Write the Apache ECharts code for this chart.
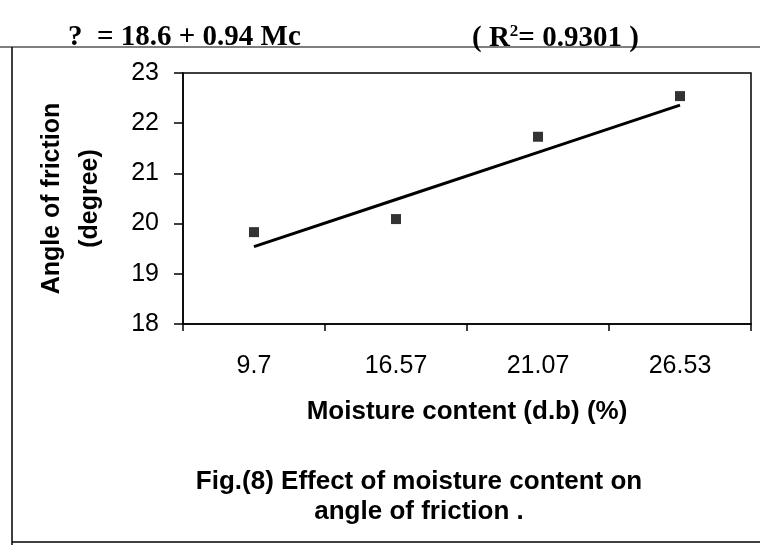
<!DOCTYPE html>
<html>
<head>
<meta charset="utf-8">
<script src="https://cdn.jsdelivr.net/npm/echarts@6/dist/echarts.min.js"></script>
<style>
  html, body { margin: 0; padding: 0; background: #ffffff; }
  #chart { width: 760px; height: 545px; }
</style>
</head>
<body>
<div id="chart"></div>
<script>
// moisture content categories (d.b %)
var moisture = ['9.7', '16.57', '21.07', '26.53'];
// measured angle of friction (degree)
var angleFriction = [19.83, 20.09, 21.73, 22.54];
// linear trend line
var trendLine = [19.54, 20.48, 21.42, 22.36];
var yTicks = [18, 19, 20, 21, 22, 23];

var chart = echarts.init(document.getElementById('chart'));
var sans = 'Liberation Sans, Arial, sans-serif';
var serif = 'Liberation Serif, Times New Roman, serif';

chart.setOption({
  backgroundColor: '#ffffff',
  animation: false,
  title: [
    {
      text: '?  = 18.6 + 0.94 Mc',
      left: 63, top: 18,
      textStyle: { fontFamily: serif, fontWeight: 'bold', fontSize: 29, color: '#000' }
    },
    {
      text: '( R{sup|2}= 0.9301 )',
      left: 467, top: 18,
      textStyle: {
        fontFamily: serif, fontWeight: 'bold', fontSize: 29, color: '#000',
        rich: { sup: { fontFamily: serif, fontWeight: 'bold', fontSize: 17, verticalAlign: 'top', padding: [0, 0, 14, 0] } }
      }
    },
    {
      text: 'Fig.(8) Effect of moisture content on\nangle of friction .',
      left: 414, top: 462, textAlign: 'center',
      textStyle: { fontFamily: sans, fontWeight: 'bold', fontSize: 26, lineHeight: 30, color: '#000', align: 'center' }
    }
  ],
  grid: {
    left: 183, top: 73, right: 9, bottom: 221,
    show: true, borderColor: '#000', borderWidth: 1.5, backgroundColor: 'transparent'
  },
  xAxis: {
    type: 'category',
    data: moisture,
    boundaryGap: true,
    name: 'Moisture content (d.b) (%)',
    nameLocation: 'middle',
    nameGap: 75,
    nameTextStyle: { fontFamily: sans, fontWeight: 'bold', fontSize: 26, color: '#000' },
    axisLine: { lineStyle: { color: '#000', width: 1.5 } },
    axisTick: { show: true, length: 7, lineStyle: { color: '#000', width: 1.5 } },
    axisLabel: { fontFamily: sans, fontSize: 25, color: '#000', margin: 30 },
    splitLine: { show: false }
  },
  yAxis: {
    type: 'value',
    min: yTicks[0],
    max: yTicks[yTicks.length - 1],
    interval: 1,
    name: 'Angle of friction\n(degree)',
    nameLocation: 'middle',
    nameGap: 74,
    nameRotate: 90,
    nameTextStyle: { fontFamily: sans, fontWeight: 'bold', fontSize: 25, lineHeight: 38, color: '#000', align: 'center' },
    axisLine: { show: true, lineStyle: { color: '#000', width: 1.5 } },
    axisTick: { show: true, inside: false, length: 9, lineStyle: { color: '#000', width: 1.5 } },
    axisLabel: { fontFamily: sans, fontSize: 25, color: '#000', margin: 24 },
    splitLine: { show: false }
  },
  series: [
    {
      name: 'Trend',
      type: 'line',
      data: trendLine,
      symbol: 'none',
      lineStyle: { color: '#000', width: 3 },
      z: 2
    },
    {
      name: 'Angle of friction',
      type: 'scatter',
      data: angleFriction,
      symbol: 'rect',
      symbolSize: 10,
      itemStyle: { color: '#000' },
      z: 3
    }
  ],
  graphic: [
    { type: 'line', shape: { x1: 0, y1: 47, x2: 760, y2: 47 }, style: { stroke: '#000', lineWidth: 1.2 } },
    { type: 'line', shape: { x1: 12, y1: 47, x2: 12, y2: 545 }, style: { stroke: '#000', lineWidth: 1.5 } },
    { type: 'line', shape: { x1: 12, y1: 542, x2: 760, y2: 542 }, style: { stroke: '#000', lineWidth: 1.5 } }
  ]
});
</script>
</body>
</html>
